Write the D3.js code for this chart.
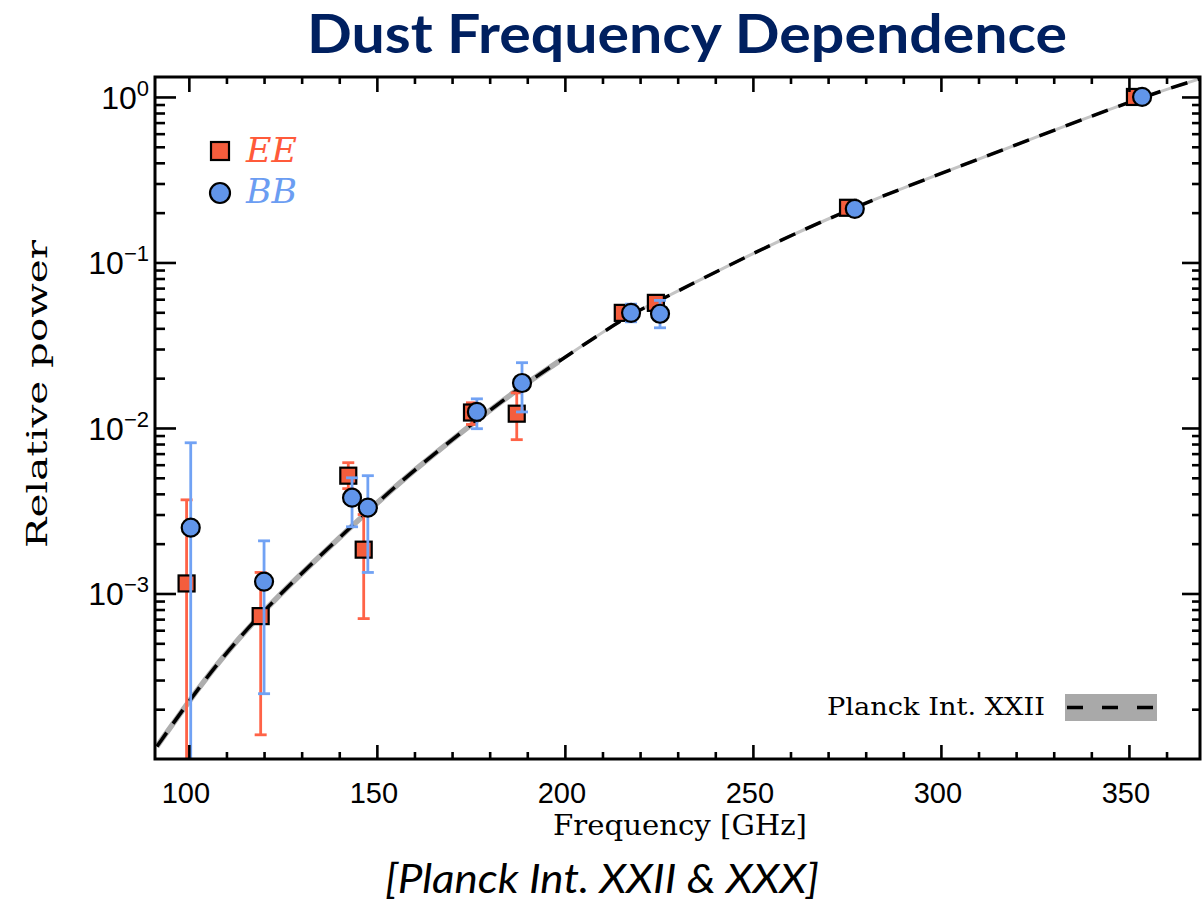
<!DOCTYPE html>
<html><head><meta charset="utf-8">
<script src="https://cdn.jsdelivr.net/npm/d3@7"></script>
<style>body{margin:0;background:#fff}</style>
</head><body><svg id="c" width="1203" height="902"></svg>
<script>
// ---- data ----
const eeFreq = [99.4, 119.1, 142.4, 146.5, 175.3, 187.2, 215.4, 224.2, 275.3, 351.6];
const eeVal  = [1.15e-3, 7.3e-4, 5.15e-3, 1.84e-3, 1.24e-2, 1.22e-2, 4.96e-2, 5.7e-2, 0.214, 1.0];
const eeLo   = [5e-5, 1.40e-4, 4.3e-3, 7.05e-4, 1.05e-2, 8.5e-3, 4.7e-2, 5.4e-2, 0.205, 0.97];
const eeHi   = [3.68e-3, 1.34e-3, 6.17e-3, 3.0e-3, 1.42e-2, 1.63e-2, 5.3e-2, 6.0e-2, 0.223, 1.03];

const bbFreq = [100.5, 120.0, 143.4, 147.6, 176.6, 188.6, 217.6, 225.3, 277.1, 353.5];
const bbVal  = [2.5e-3, 1.18e-3, 3.79e-3, 3.3e-3, 1.25e-2, 1.87e-2, 4.96e-2, 4.9e-2, 0.211, 1.0];
const bbLo   = [5e-5, 2.48e-4, 2.53e-3, 1.34e-3, 9.9e-3, 1.25e-2, 4.38e-2, 4.03e-2, 0.203, 0.97];
const bbHi   = [8.14e-3, 2.08e-3, 5.0e-3, 5.15e-3, 1.5e-2, 2.48e-2, 5.6e-2, 5.9e-2, 0.22, 1.03];

const modelFreq = [91.5, 99.7, 109, 118.9, 129, 139.4, 150.8, 159, 176.6, 188, 199.2, 217.3, 225.3, 249.2, 275, 299.7, 324.7, 353.5, 368.1, 372];
const modelVal  = [1.19e-4, 2.19e-4, 4.15e-4, 7.45e-4, 1.26e-3, 2.11e-3, 3.65e-3, 5.36e-3, 1.12e-2, 1.75e-2, 2.6e-2, 4.88e-2, 5.9e-2, 0.112, 0.208, 0.343, 0.565, 1.0, 1.27, 1.36];

const xTicks = [100, 150, 200, 250, 300, 350];
const yTicks = [1, 0.1, 0.01, 0.001];
const yTickExp = ["0", "\u22121", "\u22122", "\u22123"];

const titleText = "Dust Frequency Dependence";
const subtitleText = "[Planck Int. XXII & XXX]";
const xLabel = "Frequency [GHz]";
const yLabel = "Relative power";
const modelLabel = "Planck Int. XXII";
const seriesNames = ["EE", "BB"];

// ---- colours ----
const RED = "#f45d3d", RED_BAR = "#ff6347", BLUE = "#6195ea", BLUE_BAR = "#71a2f4";

// ---- layout ----
const L = 155, R = 1200, T = 77, B = 759;
const svg = d3.select("#c");
const x = d3.scaleLinear().domain([91, 368.9]).range([L, R]);
const y = d3.scaleLog().domain([1e-4, 1.32]).range([B, T]);

const defs = svg.append("defs");
defs.append("clipPath").attr("id", "plot")
  .append("rect").attr("x", L).attr("y", T).attr("width", R - L).attr("height", B - T);
defs.append("clipPath").attr("id", "lowpart").append("rect")
  .attr("x", L).attr("y", T).attr("width", 560 - L).attr("height", B - T);
defs.append("clipPath").attr("id", "highpart").append("rect")
  .attr("x", 560).attr("y", T).attr("width", R - 560).attr("height", B - T);

const plot = svg.append("g").attr("clip-path", "url(#plot)");

// model curve
const model = modelFreq.map((f, i) => [f, modelVal[i]]);
const line = d3.line().x(d => x(d[0])).y(d => y(d[1])).curve(d3.curveBasis);
plot.append("path").attr("d", line(model)).attr("clip-path", "url(#lowpart)")
  .attr("fill", "none").attr("stroke", "#aeaeae").attr("stroke-width", 5.5);
plot.append("path").attr("d", line(model)).attr("clip-path", "url(#highpart)")
  .attr("fill", "none").attr("stroke", "#c4c4c4").attr("stroke-width", 3);
plot.append("path").attr("d", line(model))
  .attr("fill", "none").attr("stroke", "#000").attr("stroke-width", 3.5)
  .attr("stroke-dasharray", "17,11");

function errorBars(freq, lo, hi, color) {
  const g = plot.append("g").attr("stroke", color).attr("stroke-width", 2.8).attr("fill", "none");
  freq.forEach((f, i) => {
    const cx = x(f);
    g.append("line").attr("x1", cx).attr("x2", cx).attr("y1", y(lo[i])).attr("y2", y(hi[i]));
    g.append("line").attr("x1", cx - 6).attr("x2", cx + 6).attr("y1", y(lo[i])).attr("y2", y(lo[i]));
    g.append("line").attr("x1", cx - 6).attr("x2", cx + 6).attr("y1", y(hi[i])).attr("y2", y(hi[i]));
  });
}

errorBars(eeFreq, eeLo, eeHi, RED_BAR);
plot.append("g").selectAll("rect").data(eeFreq).join("rect")
  .attr("x", d => x(d) - 8).attr("y", (d, i) => y(eeVal[i]) - 8)
  .attr("width", 16).attr("height", 16)
  .attr("fill", RED).attr("stroke", "#000").attr("stroke-width", 2.2);

errorBars(bbFreq, bbLo, bbHi, BLUE_BAR);
plot.append("g").selectAll("circle").data(bbFreq).join("circle")
  .attr("cx", d => x(d)).attr("cy", (d, i) => y(bbVal[i])).attr("r", 9)
  .attr("fill", BLUE).attr("stroke", "#000").attr("stroke-width", 2.2);

// ---- axes (ticks inward) ----
const minorX = d3.range(100, 370, 10).filter(v => v % 50 !== 0);
const minorY = [];
for (let k = -4; k <= -1; k++) for (let m = 2; m <= 9; m++) minorY.push(m * Math.pow(10, k));

function styleAxis(g) {
  g.select(".domain").remove();
  g.selectAll("line").attr("stroke", "#000").attr("stroke-width", 2.6);
  g.selectAll("text").remove();
}
svg.append("g").attr("transform", `translate(0,${B})`).call(d3.axisBottom(x).tickValues(xTicks).tickSize(-14)).call(styleAxis);
svg.append("g").attr("transform", `translate(0,${B})`).call(d3.axisBottom(x).tickValues(minorX).tickSize(-7)).call(styleAxis);
svg.append("g").attr("transform", `translate(0,${T})`).call(d3.axisTop(x).tickValues(xTicks).tickSize(-15)).call(styleAxis);
svg.append("g").attr("transform", `translate(0,${T})`).call(d3.axisTop(x).tickValues(minorX).tickSize(-7)).call(styleAxis);
svg.append("g").attr("transform", `translate(${L},0)`).call(d3.axisLeft(y).tickValues(yTicks).tickSize(-21)).call(styleAxis);
svg.append("g").attr("transform", `translate(${L},0)`).call(d3.axisLeft(y).tickValues(minorY).tickSize(-10)).call(styleAxis);
svg.append("g").attr("transform", `translate(${R},0)`).call(d3.axisRight(y).tickValues(yTicks).tickSize(-18)).call(styleAxis);
svg.append("g").attr("transform", `translate(${R},0)`).call(d3.axisRight(y).tickValues(minorY).tickSize(-8)).call(styleAxis);

svg.append("rect").attr("x", L).attr("y", T).attr("width", R - L).attr("height", B - T)
  .attr("fill", "none").attr("stroke", "#000").attr("stroke-width", 3);

// tick labels
svg.append("g").selectAll("text").data(xTicks).join("text")
  .attr("x", d => x(d) - 3).attr("y", 803).attr("text-anchor", "middle")
  .attr("font-family", "Liberation Sans, Arial, sans-serif").attr("font-size", 29)
  .text(d => d);

const yl = svg.append("g").selectAll("text").data(yTicks).join("text")
  .attr("x", 149).attr("y", d => y(d) + 12).attr("text-anchor", "end")
  .attr("font-family", "Liberation Sans, Arial, sans-serif").attr("font-size", 32);
yl.append("tspan").text("10");
yl.append("tspan").attr("dy", -13).attr("font-size", 22).text((d, i) => yTickExp[i]);

// axis titles
svg.append("text").attr("x", 680).attr("y", 835).attr("text-anchor", "middle")
  .attr("font-family", "DejaVu Serif, serif").attr("font-size", 28)
  .attr("textLength", 254).attr("lengthAdjust", "spacingAndGlyphs").text(xLabel);
svg.append("text").attr("transform", "translate(47,394) rotate(-90)").attr("text-anchor", "middle")
  .attr("font-family", "DejaVu Serif, serif").attr("font-size", 28)
  .attr("textLength", 308).attr("lengthAdjust", "spacingAndGlyphs").text(yLabel);

// title & subtitle
svg.append("text").attr("x", 687).attr("y", 53).attr("text-anchor", "middle")
  .attr("font-family", "Lato, Carlito, sans-serif").attr("font-weight", 700).attr("font-size", 54)
  .attr("fill", "#002060").attr("textLength", 760).attr("lengthAdjust", "spacingAndGlyphs").text(titleText);
svg.append("text").attr("x", 602).attr("y", 893).attr("text-anchor", "middle")
  .attr("font-family", "Lato, Carlito, sans-serif").attr("font-style", "italic").attr("font-size", 40)
  .attr("fill", "#000").attr("textLength", 434).attr("lengthAdjust", "spacingAndGlyphs").text(subtitleText);

// legend top-left
svg.append("rect").attr("x", 211).attr("y", 142).attr("width", 18).attr("height", 18)
  .attr("fill", RED).attr("stroke", "#000").attr("stroke-width", 2.2);
svg.append("circle").attr("cx", 220).attr("cy", 193).attr("r", 10)
  .attr("fill", BLUE).attr("stroke", "#000").attr("stroke-width", 2.2);
svg.append("text").attr("x", 246).attr("y", 162).attr("font-family", "DejaVu Serif, serif")
  .attr("font-style", "italic").attr("font-size", 34).attr("fill", "#ff5a3a")
  .attr("textLength", 51).attr("lengthAdjust", "spacingAndGlyphs").text(seriesNames[0]);
svg.append("text").attr("x", 246).attr("y", 203).attr("font-family", "DejaVu Serif, serif")
  .attr("font-style", "italic").attr("font-size", 34).attr("fill", "#6b9df2")
  .attr("textLength", 51).attr("lengthAdjust", "spacingAndGlyphs").text(seriesNames[1]);

// legend bottom-right
svg.append("text").attr("x", 827).attr("y", 715).attr("font-family", "DejaVu Serif, serif")
  .attr("font-size", 25).attr("textLength", 218).attr("lengthAdjust", "spacingAndGlyphs").text(modelLabel);
svg.append("rect").attr("x", 1065).attr("y", 694).attr("width", 92).attr("height", 27).attr("fill", "#a9a9a9");
svg.append("line").attr("x1", 1067).attr("x2", 1156).attr("y1", 707.5).attr("y2", 707.5)
  .attr("stroke", "#000").attr("stroke-width", 3.5).attr("stroke-dasharray", "16,19");
</script></body></html>
